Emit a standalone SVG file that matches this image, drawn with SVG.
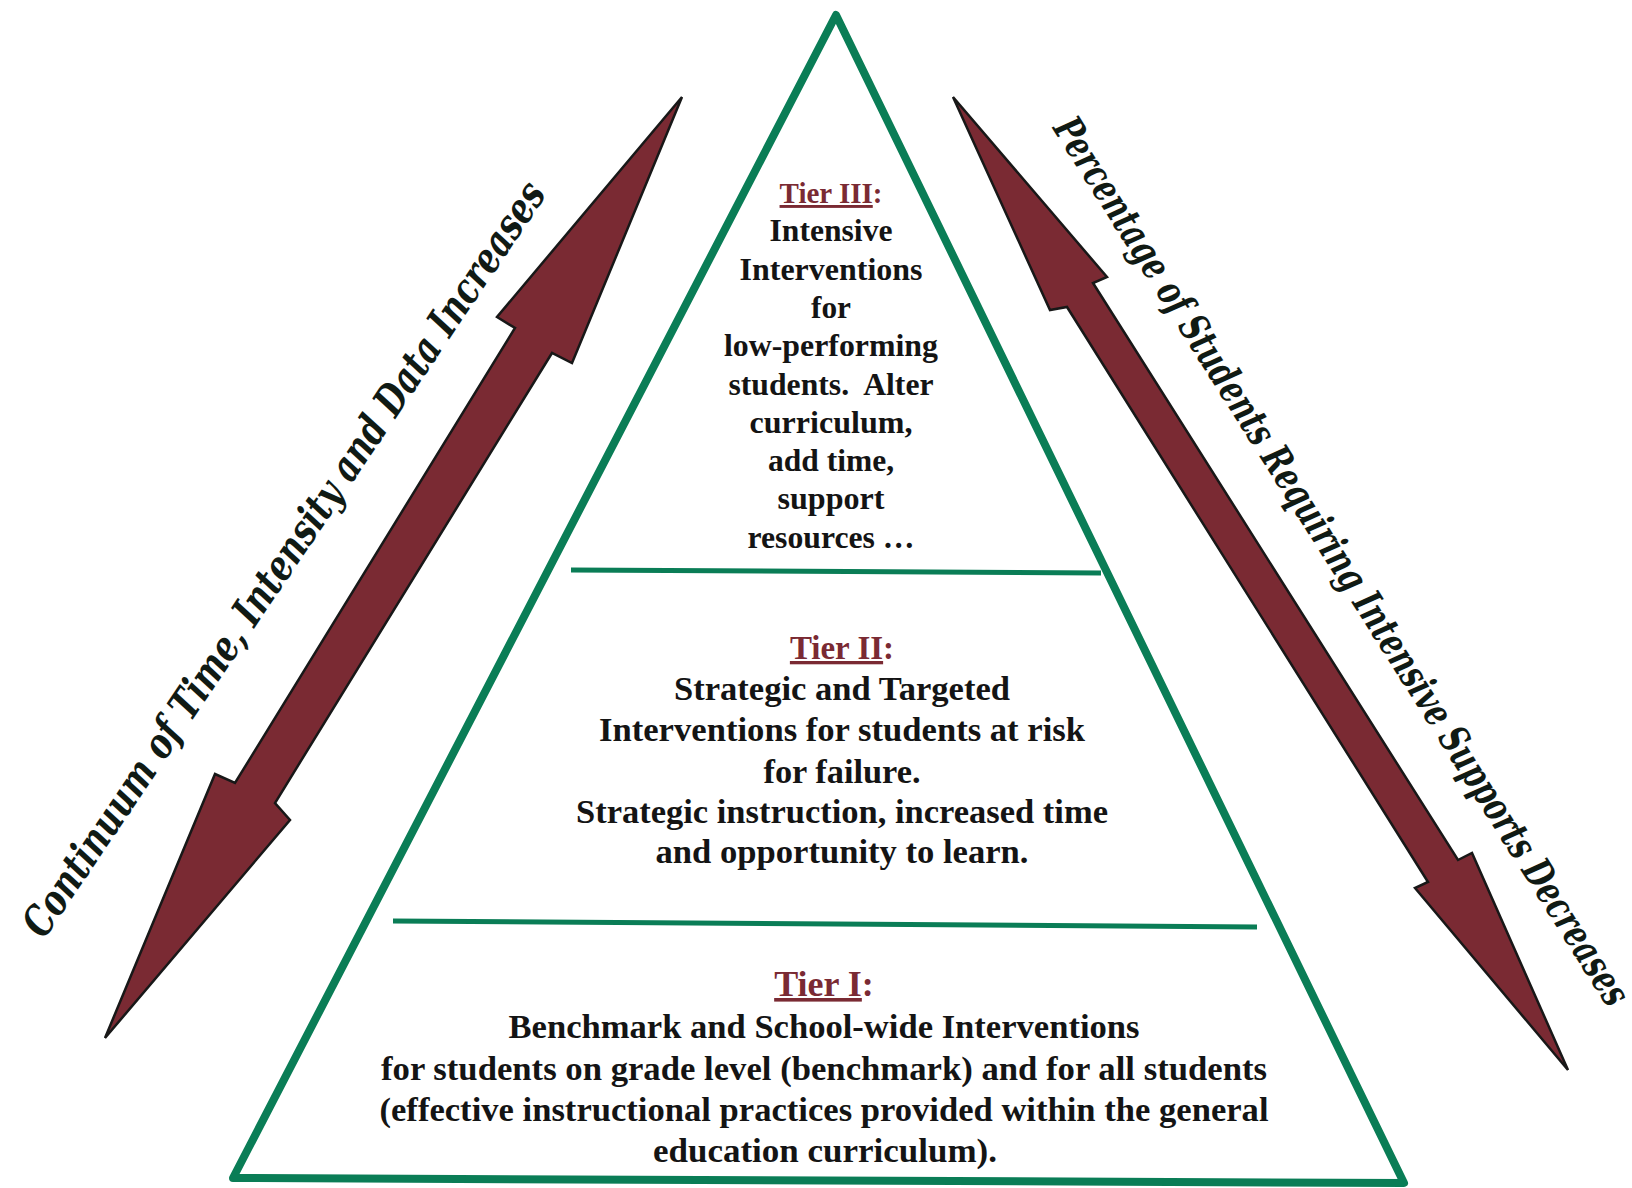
<svg xmlns="http://www.w3.org/2000/svg" width="1632" height="1188" viewBox="0 0 1632 1188">
<style>
.tier{fill:none;stroke:#0a7d56;stroke-width:8;stroke-linejoin:round}
.div{stroke:#0a7d56;stroke-width:5;fill:none}
.arrow{fill:#7a2a33;stroke:#181818;stroke-width:2.5;stroke-linejoin:miter}
.body{font-family:"Liberation Serif","Times New Roman",serif;font-weight:bold;fill:#141414;text-anchor:middle}
.lbl{font-family:"Liberation Serif","Times New Roman",serif;font-weight:bold;fill:#7a2a33;text-anchor:middle}
.side{font-family:"DejaVu Serif","Liberation Serif",serif;font-weight:bold;font-style:italic;fill:#101a14}
</style>
<rect width="1632" height="1188" fill="#ffffff"/>
<g id="pyramid">
<polygon class="tier" points="836,15 1404,1183 233,1178"/>
</g>
<g id="connectors">
<line class="div" x1="571" y1="570" x2="1101" y2="573"/>
<line class="div" x1="393" y1="921" x2="1257" y2="927"/>
</g>
<g id="arrow-left">
<polygon class="arrow" points="682,97 572,363 552,353 275,803 290,820 105,1038 215,774 235,783 515,328 497,317"/>
<text class="side" font-size="42" transform="translate(44,940) rotate(-56)" textLength="900" lengthAdjust="spacingAndGlyphs">Continuum of Time, Intensity and Data Increases</text>
</g>
<g id="arrow-right">
<polygon class="arrow" points="953,97 1107,277 1093,283 1458,860 1472,853 1568,1070 1415,888 1428,882 1067,307 1050,310"/>
<text class="side" font-size="40" transform="translate(1052,128) rotate(57.73)" textLength="1042" lengthAdjust="spacingAndGlyphs">Percentage of Students Requiring Intensive Supports Decreases</text>
</g>
<g id="tier3">
<text class="lbl" x="831" y="203" font-size="29"><tspan text-decoration="underline">Tier III</tspan>:</text>
<text class="body" font-size="32" x="831" y="241" textLength="123" lengthAdjust="spacingAndGlyphs">Intensive</text>
<text class="body" font-size="32" x="831" y="280" textLength="183" lengthAdjust="spacingAndGlyphs">Interventions</text>
<text class="body" font-size="32" x="831" y="318" textLength="40" lengthAdjust="spacingAndGlyphs">for</text>
<text class="body" font-size="32" x="831" y="356" textLength="214" lengthAdjust="spacingAndGlyphs">low-performing</text>
<text class="body" font-size="32" x="831" y="395" textLength="205" lengthAdjust="spacingAndGlyphs" xml:space="preserve">students.  Alter</text>
<text class="body" font-size="32" x="831" y="433" textLength="163" lengthAdjust="spacingAndGlyphs">curriculum,</text>
<text class="body" font-size="32" x="831" y="471" textLength="126" lengthAdjust="spacingAndGlyphs">add time,</text>
<text class="body" font-size="32" x="831" y="509" textLength="107" lengthAdjust="spacingAndGlyphs">support</text>
<text class="body" font-size="32" x="831" y="548" textLength="167" lengthAdjust="spacingAndGlyphs">resources …</text>
</g>
<g id="tier2">
<text class="lbl" x="842" y="659" font-size="33"><tspan text-decoration="underline">Tier II</tspan>:</text>
<text class="body" font-size="34" x="842" y="700" textLength="336" lengthAdjust="spacingAndGlyphs">Strategic and Targeted</text>
<text class="body" font-size="34" x="842" y="741" textLength="486" lengthAdjust="spacingAndGlyphs">Interventions for students at risk</text>
<text class="body" font-size="34" x="842" y="783" textLength="157" lengthAdjust="spacingAndGlyphs">for failure.</text>
<text class="body" font-size="34" x="842" y="823" textLength="532" lengthAdjust="spacingAndGlyphs">Strategic instruction, increased time</text>
<text class="body" font-size="34" x="842" y="863" textLength="373" lengthAdjust="spacingAndGlyphs">and opportunity to learn.</text>
</g>
<g id="tier1">
<text class="lbl" x="824" y="996" font-size="36"><tspan text-decoration="underline">Tier I</tspan>:</text>
<text class="body" font-size="33" x="824" y="1038" textLength="631" lengthAdjust="spacingAndGlyphs">Benchmark and School-wide Interventions</text>
<text class="body" font-size="33" x="824" y="1080" textLength="886" lengthAdjust="spacingAndGlyphs">for students on grade level (benchmark) and for all students</text>
<text class="body" font-size="33" x="824" y="1121" textLength="889" lengthAdjust="spacingAndGlyphs">(effective instructional practices provided within the general</text>
<text class="body" font-size="33" x="825" y="1162" textLength="344" lengthAdjust="spacingAndGlyphs">education curriculum).</text>
</g>
</svg>
